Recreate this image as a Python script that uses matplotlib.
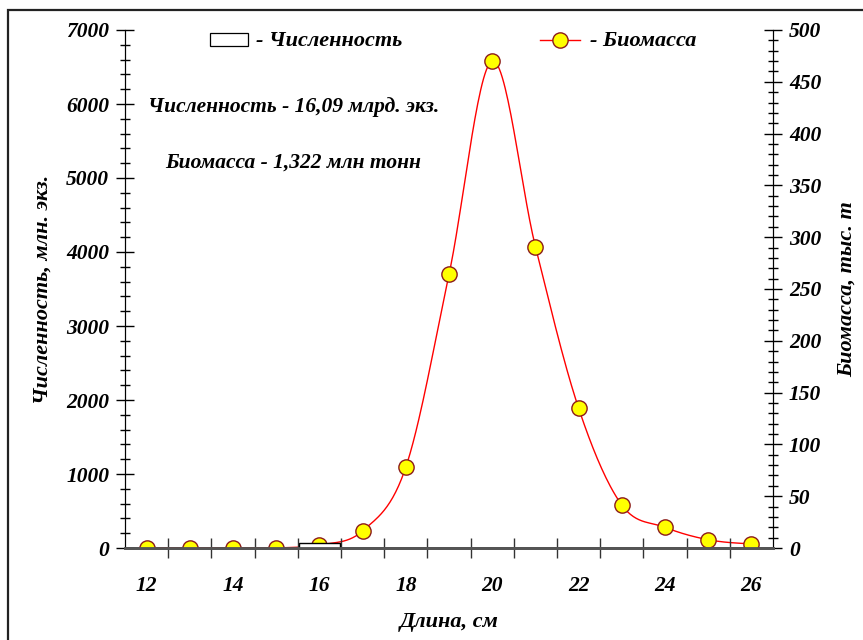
import numpy as np
import matplotlib
matplotlib.use("Agg")
import matplotlib.pyplot as plt
from matplotlib.patches import Rectangle
from matplotlib.lines import Line2D
from matplotlib.ticker import MultipleLocator, FixedLocator
from matplotlib.font_manager import FontProperties

# ── data ─────────────────────────────────────────────────────────────────────
lengths   = [12, 13, 14, 15, 16, 17, 18, 19, 20, 21, 22, 23, 24, 25, 26]
numbers   = [0, 0, 0, 0, 70, 0, 0, 0, 0, 0, 0, 0, 0, 0, 0]          # млн. экз.
biomass   = [0, 0, 0, 0, 3, 16.5, 78, 264, 470, 291, 135, 41.5, 20, 8, 4]  # тыс. т

FONT = "Liberation Serif"
plt.rcParams["font.family"] = [FONT, "DejaVu Serif"]
plt.rcParams["font.weight"] = "bold"
plt.rcParams["font.style"] = "italic"


def smooth(x, y, n=30):
    """Catmull-Rom style smoothing (like a spreadsheet smoothed line)."""
    x = np.asarray(x, float); y = np.asarray(y, float)
    xs, ys = [], []
    for i in range(len(x) - 1):
        y0 = y[i - 1] if i > 0 else y[i]
        y3 = y[i + 2] if i + 2 < len(y) else y[i + 1]
        m1 = (y[i + 1] - y0) / 2.0
        m2 = (y3 - y[i]) / 2.0
        t = np.linspace(0, 1, n, endpoint=False)
        h00 = 2*t**3 - 3*t**2 + 1
        h10 = t**3 - 2*t**2 + t
        h01 = -2*t**3 + 3*t**2
        h11 = t**3 - t**2
        xs.append(x[i] + t * (x[i + 1] - x[i]))
        ys.append(h00*y[i] + h10*m1 + h01*y[i + 1] + h11*m2)
    xs.append([x[-1]]); ys.append([y[-1]])
    return np.concatenate(xs), np.concatenate(ys)


W, H = 863, 640
fig = plt.figure(figsize=(W / 100, H / 100), dpi=100)
ax = fig.add_axes([125 / W, (H - 548) / H, (773 - 125) / W, (548 - 30) / H])
ax2 = ax.twinx()

# figure frame (cropped at right/bottom)
fig.patches.append(Rectangle((8 / W, -0.2), 1.3, 0.2 + (H - 10) / H,
                             transform=fig.transFigure, fill=False,
                             edgecolor="#222222", linewidth=1.6))

# bars — численность
ax.bar(lengths, numbers, width=0.95, color="white", edgecolor="black",
       linewidth=1.0, zorder=2)
ax.set_xlim(11.5, 26.5)
ax.set_ylim(0, 7000)

# line — биомасса
sx, sy = smooth(lengths, biomass)
ax2.plot(sx, sy, color="red", linewidth=1.0, zorder=3)
ax2.plot(lengths, biomass, linestyle="none", marker="o", markersize=11,
         markerfacecolor="#ffff00", markeredgecolor="#8b1a1a",
         markeredgewidth=1.0, zorder=4)
ax2.set_ylim(0, 500)
ax.set_zorder(ax2.get_zorder() + 1)
ax.patch.set_visible(False)

for a in (ax, ax2):
    a.spines["top"].set_visible(False)
    a.spines["left"].set_color("black")
    a.spines["right"].set_color("black")
    a.spines["bottom"].set_color("#555555")
    a.spines["bottom"].set_linewidth(2.0)

tick_fp = FontProperties(family=FONT, weight="bold", style="italic", size=15.5)

# left axis
ax.yaxis.set_major_locator(MultipleLocator(1000))
ax.yaxis.set_minor_locator(MultipleLocator(200))
ax.tick_params(axis="y", which="major", direction="inout", length=13,
               width=1.0, pad=5)
ax.tick_params(axis="y", which="minor", direction="inout", length=7, width=1.0)
for lab in ax.get_yticklabels():
    lab.set_fontproperties(tick_fp)

# right axis
ax2.yaxis.set_major_locator(MultipleLocator(50))
ax2.yaxis.set_minor_locator(MultipleLocator(10))
ax2.tick_params(axis="y", which="major", direction="inout", length=13,
                width=1.0, pad=5)
ax2.tick_params(axis="y", which="minor", direction="inout", length=7, width=1.0)
for lab in ax2.get_yticklabels():
    lab.set_fontproperties(tick_fp)

# x axis: labels at even lengths, tick marks between categories
ax.xaxis.set_major_locator(FixedLocator([12, 14, 16, 18, 20, 22, 24, 26]))
ax.xaxis.set_minor_locator(FixedLocator(np.arange(12.5, 26.5, 1.0)))
ax.tick_params(axis="x", which="major", length=0, pad=20)
ax.tick_params(axis="x", which="minor", direction="inout", length=14,
               width=1.0, color="#333333")
for lab in ax.get_xticklabels():
    lab.set_fontproperties(tick_fp)
ax2.tick_params(axis="x", which="both", length=0)

label_font = dict(family=FONT, weight="bold", style="italic", size=16)
ax.set_xlabel("Длина, см", labelpad=12, **label_font)
ax.set_ylabel("Численность, млн. экз.", labelpad=10, **label_font)
ax2.set_ylabel("Биомасса, тыс. т", rotation=90, labelpad=11, **label_font)

# legend (drawn by hand to match the original layout)
fig.patches.append(Rectangle((210 / W, (H - 46) / H), 38 / W, 13 / H,
                             transform=fig.transFigure, facecolor="white",
                             edgecolor="black", linewidth=0.9))
fig.text(256 / W, (H - 41) / H, "- Численность", va="center", ha="left",
         **label_font)
fig.lines.append(Line2D([540 / W, 580 / W], [(H - 40) / H] * 2,
                        transform=fig.transFigure, color="red", linewidth=1.0))
fig.lines.append(Line2D([560 / W], [(H - 40) / H], transform=fig.transFigure,
                        marker="o", markersize=11, markerfacecolor="#ffff00",
                        markeredgecolor="#8b1a1a", markeredgewidth=1.0))
fig.text(590 / W, (H - 41) / H, "- Биомасса", va="center", ha="left",
         **label_font)

note_font = dict(label_font, size=15.5)
fig.text(148 / W, (H - 107) / H, "Численность - 16,09 млрд. экз.",
         va="center", ha="left", **note_font)
fig.text(165 / W, (H - 163) / H, "Биомасса - 1,322 млн тонн",
         va="center", ha="left", **note_font)

fig.savefig("out.png", dpi=100)
